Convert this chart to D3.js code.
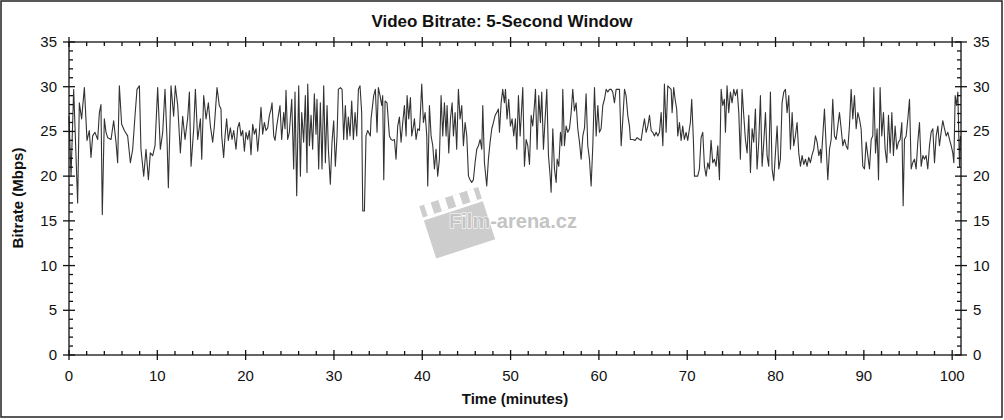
<!DOCTYPE html>
<html><head><meta charset="utf-8">
<script src="https://cdn.jsdelivr.net/npm/d3@7"></script>
<style>
html,body{margin:0;padding:0;background:#fff;}
svg{display:block;}
text{font-family:"Liberation Sans",Arial,sans-serif;fill:#111;}
</style></head>
<body><svg id="c" width="1004" height="420"></svg>
<script>
const title = "Video Bitrate: 5-Second Window";
const xLabel = "Time (minutes)";
const yLabel = "Bitrate (Mbps)";
const xTicks = [0,10,20,30,40,50,60,70,80,90,100];
const yTicks = [0,5,10,15,20,25,30,35];
const times = [
0.0,0.23,0.53,0.98,1.17,1.43,1.74,2.04,2.30,2.49,2.68,2.94,3.25,3.44,3.62,3.77,4.00,4.19,4.38,4.76,
5.06,5.32,5.51,5.70,5.96,6.27,6.64,6.95,7.21,7.47,7.70,7.97,8.15,8.46,8.72,8.99,9.21,9.48,9.74,10.04,
10.34,10.61,10.87,11.10,11.25,11.55,11.85,12.04,12.31,12.61,12.87,13.14,13.44,13.63,13.82,14.12,14.31,14.57,14.88,15.03,
15.25,15.52,15.78,16.01,16.27,16.46,16.76,17.02,17.21,
17.29,17.51,17.67,17.85,18.04,18.27,18.46,18.65,18.91,19.10,19.29,19.48,19.67,19.86,20.04,20.23,20.42,20.61,20.80,20.99,
21.18,21.37,21.55,21.74,21.93,22.12,22.31,22.50,22.69,22.88,22.99,23.18,23.33,23.52,23.71,23.89,24.08,24.31,24.46,24.57,
24.76,24.95,25.22,25.44,25.59,25.78,26.01,26.20,26.35,26.57,26.76,26.95,27.03,27.22,27.41,27.59,27.78,27.97,28.08,28.27,
28.46,28.65,28.84,29.03,29.22,29.37,29.59,29.78,29.97,30.16,30.35,30.50,30.73,30.92,31.10,31.29,31.48,31.63,31.82,32.01,
32.20,32.39,32.58,32.77,32.95,33.14,33.26,33.45,33.63,33.82,34.12,
34.20,34.50,34.69,34.88,35.03,35.22,35.41,35.52,35.64,35.79,36.01,36.28,36.47,36.66,36.85,37.03,37.22,37.41,37.60,37.79,
37.98,38.17,38.28,38.47,38.66,38.81,39.00,39.11,39.30,39.49,39.68,39.79,39.94,40.13,40.32,40.51,40.62,40.81,41.00,41.19,
41.38,41.56,41.75,41.94,42.13,42.32,42.51,42.70,42.81,43.00,43.19,43.38,43.53,43.72,43.90,44.09,44.28,44.47,44.66,44.85,
45.04,45.23,45.41,45.60,45.79,45.98,46.17,46.36,46.55,46.74,46.85,47.04,47.30,47.49,47.68,47.87,48.06,48.25,48.43,48.62,
48.74,48.93,49.11,49.30,49.42,49.60,49.79,49.98,50.17,50.36,50.55,50.70,50.89,51.08,
51.19,51.38,51.57,51.76,51.95,52.14,52.33,52.51,52.70,52.82,53.00,53.19,53.38,53.53,53.72,53.91,54.10,54.29,54.48,54.59,
54.78,54.97,55.16,55.27,55.46,55.65,55.80,55.91,56.10,56.29,56.48,56.67,56.86,57.04,57.23,57.42,57.61,57.80,57.99,58.18,
58.37,58.55,58.74,58.93,59.12,59.31,59.50,59.69,59.88,60.06,60.25,60.44,60.63,60.82,61.01,61.20,61.39,61.57,61.76,61.95,
62.14,62.33,62.52,62.71,62.90,63.08,63.27,63.46,63.57,63.84,64.10,64.33,64.59,64.78,64.97,65.16,65.35,65.54,65.73,65.92,
66.10,66.29,66.48,66.67,66.86,67.05,67.24,67.42,67.61,67.80,67.99,68.18,
68.29,68.47,68.63,68.81,68.93,69.12,69.31,69.49,69.68,69.87,70.06,70.25,70.36,70.51,70.70,70.82,71.00,71.19,71.38,71.57,
71.76,71.95,72.14,72.33,72.51,72.70,72.89,73.08,73.27,73.46,73.65,73.84,74.02,74.21,74.33,74.51,74.70,74.89,75.08,75.27,
75.46,75.65,75.84,76.02,76.21,76.40,76.59,76.78,76.97,77.16,77.35,77.53,77.72,77.91,78.10,78.29,78.48,78.67,78.86,79.04,
79.23,79.42,79.61,79.80,79.99,80.18,80.37,80.55,80.74,80.93,81.12,81.31,81.50,81.69,81.88,82.06,82.25,82.44,82.63,82.82,
83.01,83.20,83.39,83.57,83.76,83.95,84.14,84.33,84.52,84.71,84.90,85.09,
85.16,85.35,85.54,85.73,85.92,86.11,86.30,86.48,86.67,86.86,87.05,87.24,87.43,87.62,87.81,87.99,88.18,88.37,88.56,88.75,
88.94,89.13,89.32,89.50,89.69,89.88,90.07,90.26,90.45,90.64,90.83,91.01,91.13,91.32,91.50,91.66,91.84,92.03,92.22,92.41,
92.60,92.79,92.98,93.17,93.35,93.54,93.73,93.92,94.11,94.30,94.45,94.60,94.79,94.98,95.17,95.36,95.54,95.73,95.92,96.11,
96.30,96.49,96.68,96.87,97.05,97.24,97.43,97.62,97.81,98.00,98.19,98.38,98.56,98.75,98.94,99.13,99.32,99.51,99.70,99.89,
100.07,100.19,100.34,100.49,100.64,100.83,100.94
];
const bitrates = [
26.7,20.0,29.7,17.0,28.2,26.4,29.9,24.0,25.1,22.1,24.5,24.9,24.1,27.1,28.0,15.7,26.4,24.9,24.3,24.1,
26.2,23.8,21.5,30.1,25.8,25.1,24.5,21.5,23.0,26.7,29.7,30.1,23.0,20.0,23.0,19.6,22.6,22.3,23.4,29.9,
23.0,24.9,29.7,24.1,18.7,30.1,26.7,30.1,27.9,22.6,26.7,24.1,26.5,29.4,21.1,25.3,29.7,24.1,26.4,21.9,
29.0,26.4,28.2,25.6,23.8,25.6,29.9,27.9,27.5,
24.5,22.1,24.5,26.4,24.0,25.4,24.1,25.1,23.0,25.4,26.0,24.5,25.1,22.8,24.9,24.1,25.1,22.4,25.8,24.7,
25.3,22.8,24.9,27.7,24.7,26.0,25.1,25.4,26.8,27.5,28.2,24.5,24.0,25.6,26.8,27.9,24.1,27.1,25.3,29.6,
24.1,24.9,28.6,20.8,29.4,17.8,30.1,20.0,27.1,23.8,29.0,20.4,30.3,23.4,26.8,23.0,29.2,24.7,28.6,20.8,
28.2,20.8,30.1,21.5,27.9,23.0,19.1,23.8,26.2,21.1,24.5,29.7,29.9,29.7,24.1,27.9,24.1,26.6,24.5,28.4,
24.1,27.1,24.5,29.7,30.1,27.1,16.1,16.1,24.5,25.1,24.5,
26.4,29.0,29.7,24.9,29.9,29.0,27.9,29.0,19.6,28.4,28.2,24.5,24.1,24.0,24.1,21.9,25.6,26.6,23.8,26.0,
27.9,24.5,29.0,26.4,28.8,24.5,25.6,26.4,24.1,25.3,25.1,27.1,30.3,26.0,27.1,24.5,18.9,27.9,24.5,23.4,
20.8,23.0,20.0,21.9,29.0,24.5,28.2,24.5,27.9,22.6,26.4,28.2,24.5,27.1,23.0,29.7,26.4,27.9,23.4,26.0,
24.5,20.0,19.6,19.3,19.6,21.5,23.0,23.4,24.1,23.0,27.9,21.5,18.9,21.9,23.8,25.3,26.0,26.8,27.1,27.5,
24.9,28.2,29.7,28.2,29.7,26.4,28.6,25.6,26.4,24.5,26.4,23.0,29.0,24.5,
26.4,29.9,21.1,24.1,23.4,21.3,26.8,25.6,27.9,29.7,23.0,29.0,26.0,29.4,23.0,26.4,29.7,22.3,20.0,18.2,
25.3,20.8,19.3,21.9,21.1,24.9,23.4,29.7,23.4,25.6,24.9,25.3,27.1,29.7,27.3,28.2,25.3,23.8,21.9,24.5,
25.4,29.2,23.4,21.9,18.9,23.4,29.9,24.5,27.9,24.9,25.3,27.9,28.6,29.7,29.4,29.7,29.7,29.4,28.2,29.7,
29.7,29.7,23.4,26.4,29.7,29.0,26.8,25.6,24.1,24.1,24.0,24.3,24.1,24.0,25.3,26.4,24.9,25.6,26.8,25.1,
24.9,24.5,24.9,24.5,24.9,27.1,23.4,30.3,24.9,30.1,29.9,29.7,
27.1,29.9,28.6,27.5,24.5,26.0,24.0,25.6,24.1,24.9,24.0,25.3,26.0,28.6,24.0,20.0,20.0,20.0,20.8,24.3,
24.9,21.1,20.0,21.5,20.8,24.0,21.5,21.9,21.1,23.4,19.6,29.7,27.9,28.6,24.9,30.1,27.1,29.4,28.2,29.7,
29.0,29.7,27.1,21.9,29.7,26.8,24.1,22.6,26.8,20.4,25.3,23.8,27.5,20.8,23.8,29.0,21.1,23.8,27.1,22.3,
21.1,29.4,20.8,19.5,22.6,25.6,20.8,21.9,28.2,29.4,29.7,27.1,29.0,23.0,27.1,23.4,24.5,26.0,22.6,21.1,
22.3,21.3,21.9,21.1,22.1,21.5,22.4,23.0,24.5,23.8,22.3,23.0,
21.5,24.5,27.5,23.4,19.6,23.0,24.1,28.6,24.5,24.1,25.6,27.1,25.3,23.4,24.1,23.4,23.0,25.6,29.7,26.4,
29.0,25.3,27.1,26.4,25.3,21.1,20.8,23.8,22.3,20.8,24.1,24.5,29.9,22.6,25.3,19.6,29.9,24.5,27.1,23.0,
21.5,26.8,22.6,27.1,22.3,25.6,23.0,23.8,24.1,26.0,16.7,24.1,24.5,26.4,28.6,20.8,21.5,21.9,20.8,23.8,
26.0,21.1,22.3,21.9,22.3,20.8,23.4,24.9,25.3,21.5,24.5,25.6,23.4,24.9,26.2,25.3,24.5,24.9,24.1,23.4,
22.6,21.5,29.0,27.9,29.4,21.1,24.5
];

const data = times.map((t,i)=>({t, v: bitrates[i]}));
const svg = d3.select("#c");
const W = 1004, H = 420;
const x0 = 69, x1 = 961, yTop = 42, yBot = 355;
const x = d3.scaleLinear().domain([0,101]).range([x0,x1]);
const y = d3.scaleLinear().domain([0,35]).range([yBot,yTop]);

// outer frame
svg.append("rect").attr("x",1).attr("y",1).attr("width",W-3).attr("height",H-4)
  .attr("fill","#fff").attr("stroke","#222").attr("stroke-width",1.5);

// watermark (clapperboard + text)
const wm = svg.append("g");
const clap = wm.append("g").attr("transform","translate(458,222) rotate(-18)");
clap.append("rect").attr("x",-32).attr("y",-12).attr("width",62).attr("height",40).attr("fill","#cdcdcd");
clap.append("rect").attr("x",-32).attr("y",-27).attr("width",62).attr("height",12).attr("fill","#cdcdcd");
for (let i=0;i<4;i++){
  clap.append("rect").attr("x",-27+i*15).attr("y",-27).attr("width",7).attr("height",12).attr("fill","#fff");
}
wm.append("text").attr("x",513).attr("y",228).attr("text-anchor","middle")
  .style("font-size","20px").style("font-weight","bold").style("fill","#c4c4c4")
  .attr("stroke","#fff").attr("stroke-width",1.2).attr("paint-order","stroke").text("Film-arena.cz");

// line
const line = d3.line().x(d=>x(d.t)).y(d=>y(d.v));
svg.append("path").datum(data).attr("d",line).attr("fill","none")
  .attr("stroke","#333").attr("stroke-width",1.1).attr("stroke-linejoin","round");

// axes frame
const axG = svg.append("g").attr("stroke","#111").attr("stroke-width",1.3).attr("fill","none");
axG.append("rect").attr("x",x0).attr("y",yTop).attr("width",x1-x0).attr("height",yBot-yTop);

const xMinor = d3.range(0,101,2).filter(v=>v%10!==0);
function vTick(px, ya, yb){ axG.append("line").attr("x1",px).attr("x2",px).attr("y1",ya).attr("y2",yb); }
function hTick(py, xa, xb){ axG.append("line").attr("y1",py).attr("y2",py).attr("x1",xa).attr("x2",xb); }
xTicks.forEach(v=>{ vTick(x(v), yBot-5, yBot+5); vTick(x(v), yTop-5, yTop+5); });
xMinor.forEach(v=>{ vTick(x(v), yBot-4, yBot); vTick(x(v), yTop, yTop+4); });
const yMinor = d3.range(0,36,1).filter(v=>v%5!==0);
yTicks.forEach(v=>{ hTick(y(v), x0-6, x0+6); hTick(y(v), x1-6, x1+6); });
yMinor.forEach(v=>{ hTick(y(v), x0, x0+4); hTick(y(v), x1-4, x1); });

// tick labels
svg.append("g").selectAll("text").data(xTicks).join("text")
  .attr("x",d=>x(d)).attr("y",yBot+26).attr("text-anchor","middle")
  .style("font-size","15px").text(d=>d);
svg.append("g").selectAll("text").data(yTicks).join("text")
  .attr("x",x0-12).attr("y",d=>y(d)+5).attr("text-anchor","end")
  .style("font-size","15px").text(d=>d);
svg.append("g").selectAll("text").data(yTicks).join("text")
  .attr("x",x1+12).attr("y",d=>y(d)+5).attr("text-anchor","start")
  .style("font-size","15px").text(d=>d);

// titles
svg.append("text").attr("x",502).attr("y",27).attr("text-anchor","middle")
  .style("font-size","17px").style("font-weight","bold").text(title);
svg.append("text").attr("x",515).attr("y",404).attr("text-anchor","middle")
  .style("font-size","15px").style("font-weight","bold").text(xLabel);
svg.append("text").attr("transform","translate(23,198) rotate(-90)").attr("text-anchor","middle")
  .style("font-size","15px").style("font-weight","bold").text(yLabel);
</script></body></html>
